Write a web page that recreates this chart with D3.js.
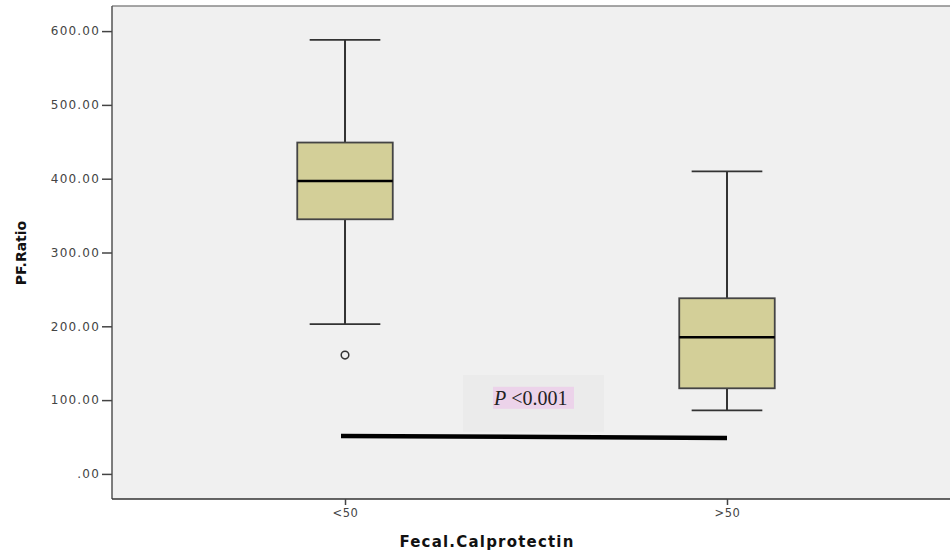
<!DOCTYPE html>
<html>
<head>
<meta charset="utf-8">
<script src="https://cdn.jsdelivr.net/npm/d3@7"></script>
<style>
  body { margin: 0; background: #fff; }
  text { font-family: "DejaVu Sans", "Liberation Sans", Arial, sans-serif; }
</style>
</head>
<body>
<svg id="chart" width="950" height="552"></svg>
<script>
// data
var categories = ["<50", ">50"];
var whiskerLow = [203, 86];
var q1 = [345, 116];
var median = [397, 185];
var q3 = [449, 238];
var whiskerHigh = [588, 410];
var outliers = [[161], []];
var yTicks = [0, 100, 200, 300, 400, 500, 600];
var pLine = [51.5, 48.5];   // ends of the significance bar
var pLabel = "<0.001";

var svg = d3.select("#chart");
// careful: "top" is taken by window.top
var plotLeft = 112, plotTop = 6, plotBottom = 499, plotRight = 960;

var y = d3.scaleLinear().domain([-34, 634]).range([plotBottom, plotTop]);
var x = d3.scalePoint().domain(categories).range([plotLeft, plotRight]).padding(0.61);
var boxW = x.step() * 0.25;
var capW = x.step() * 0.185;

// plot background
svg.append("rect")
    .attr("x", plotLeft).attr("y", plotTop)
    .attr("width", plotRight - plotLeft).attr("height", plotBottom - plotTop)
    .attr("fill", "#f0f0f0");
svg.append("line")
    .attr("x1", plotLeft).attr("x2", plotRight).attr("y1", plotTop).attr("y2", plotTop)
    .attr("stroke", "#888").attr("stroke-width", 1.5);

// y axis
var yAxis = svg.append("g")
    .attr("transform", "translate(" + plotLeft + ",0)")
    .call(d3.axisLeft(y).tickValues(yTicks).tickSize(10).tickSizeOuter(0)
      .tickFormat(function(d) { return d === 0 ? ".00" : d3.format(".2f")(d); }));
yAxis.select(".domain").attr("stroke", "#555").attr("stroke-width", 1.5)
    .attr("d", "M0," + plotTop + "V" + plotBottom);
yAxis.selectAll(".tick line").attr("stroke", "#444").attr("stroke-width", 1.5);
yAxis.selectAll(".tick text")
    .attr("x", -12).attr("fill", "#444")
    .style("font-size", "12px").style("letter-spacing", "1.2px");

// x axis
var xAxis = svg.append("g")
    .attr("transform", "translate(0," + plotBottom + ")")
    .call(d3.axisBottom(x).tickSize(6).tickSizeOuter(0));
xAxis.select(".domain").attr("stroke", "#333").attr("stroke-width", 1.5)
    .attr("d", "M" + plotLeft + ",0H" + plotRight);
xAxis.selectAll(".tick line").attr("stroke", "#444").attr("stroke-width", 1.5);
xAxis.selectAll(".tick text")
    .attr("y", 10).attr("fill", "#444")
    .style("font-size", "11.5px").style("letter-spacing", "0.5px");

// axis titles
svg.append("text")
    .attr("transform", "translate(26,253) rotate(-90)")
    .attr("text-anchor", "middle")
    .style("font-size", "14px").style("font-weight", "bold")
    .attr("fill", "#111")
    .text("PF.Ratio");
svg.append("text")
    .attr("x", 487).attr("y", 547)
    .attr("text-anchor", "middle")
    .style("font-size", "15px").style("font-weight", "bold").style("letter-spacing", "1.2px")
    .attr("fill", "#111")
    .text("Fecal.Calprotectin");

// boxes
var g = svg.selectAll(".box").data(categories).enter().append("g").attr("class", "box");

g.append("line")
    .attr("x1", function(d) { return x(d); }).attr("x2", function(d) { return x(d); })
    .attr("y1", function(d, i) { return y(whiskerHigh[i]); })
    .attr("y2", function(d, i) { return y(whiskerLow[i]); })
    .attr("stroke", "#333").attr("stroke-width", 2);
g.selectAll(".cap")
    .data(function(d, i) { return [{ c: d, v: whiskerHigh[i] }, { c: d, v: whiskerLow[i] }]; })
  .enter().append("line")
    .attr("x1", function(d) { return x(d.c) - capW / 2; })
    .attr("x2", function(d) { return x(d.c) + capW / 2; })
    .attr("y1", function(d) { return y(d.v); }).attr("y2", function(d) { return y(d.v); })
    .attr("stroke", "#333").attr("stroke-width", 1.8);
g.append("rect")
    .attr("x", function(d) { return x(d) - boxW / 2; })
    .attr("y", function(d, i) { return y(q3[i]); })
    .attr("width", boxW)
    .attr("height", function(d, i) { return y(q1[i]) - y(q3[i]); })
    .attr("fill", "#d3cf98").attr("stroke", "#444").attr("stroke-width", 1.8);
g.append("line")
    .attr("x1", function(d) { return x(d) - boxW / 2; })
    .attr("x2", function(d) { return x(d) + boxW / 2; })
    .attr("y1", function(d, i) { return y(median[i]); })
    .attr("y2", function(d, i) { return y(median[i]); })
    .attr("stroke", "#000").attr("stroke-width", 2.5);
g.selectAll(".out")
    .data(function(d, i) { return outliers[i].map(function(v) { return { c: d, v: v }; }); })
  .enter().append("circle")
    .attr("cx", function(d) { return x(d.c); })
    .attr("cy", function(d) { return y(d.v); })
    .attr("r", 3.8)
    .attr("fill", "none").attr("stroke", "#333").attr("stroke-width", 1.5);

// significance annotation
var midX = (x(categories[0]) + x(categories[1])) / 2;
svg.append("rect")
    .attr("x", midX - 73).attr("y", y(134))
    .attr("width", 141).attr("height", y(57) - y(134))
    .attr("fill", "#ebebeb");
svg.append("rect")
    .attr("x", midX - 43).attr("y", y(118))
    .attr("width", 81).attr("height", 22)
    .attr("fill", "#ecd3ea");
svg.append("text")
    .attr("x", midX - 42).attr("y", y(118) + 18)
    .style("font-family", "'Liberation Serif', 'Times New Roman', serif")
    .style("font-size", "20px").attr("fill", "#222")
    .html("<tspan font-style='italic'>P</tspan> " + pLabel);
svg.append("line")
    .attr("x1", x(categories[0]) - 4).attr("x2", x(categories[1]))
    .attr("y1", y(pLine[0])).attr("y2", y(pLine[1]))
    .attr("stroke", "#000").attr("stroke-width", 4.5);
</script>
</body>
</html>
